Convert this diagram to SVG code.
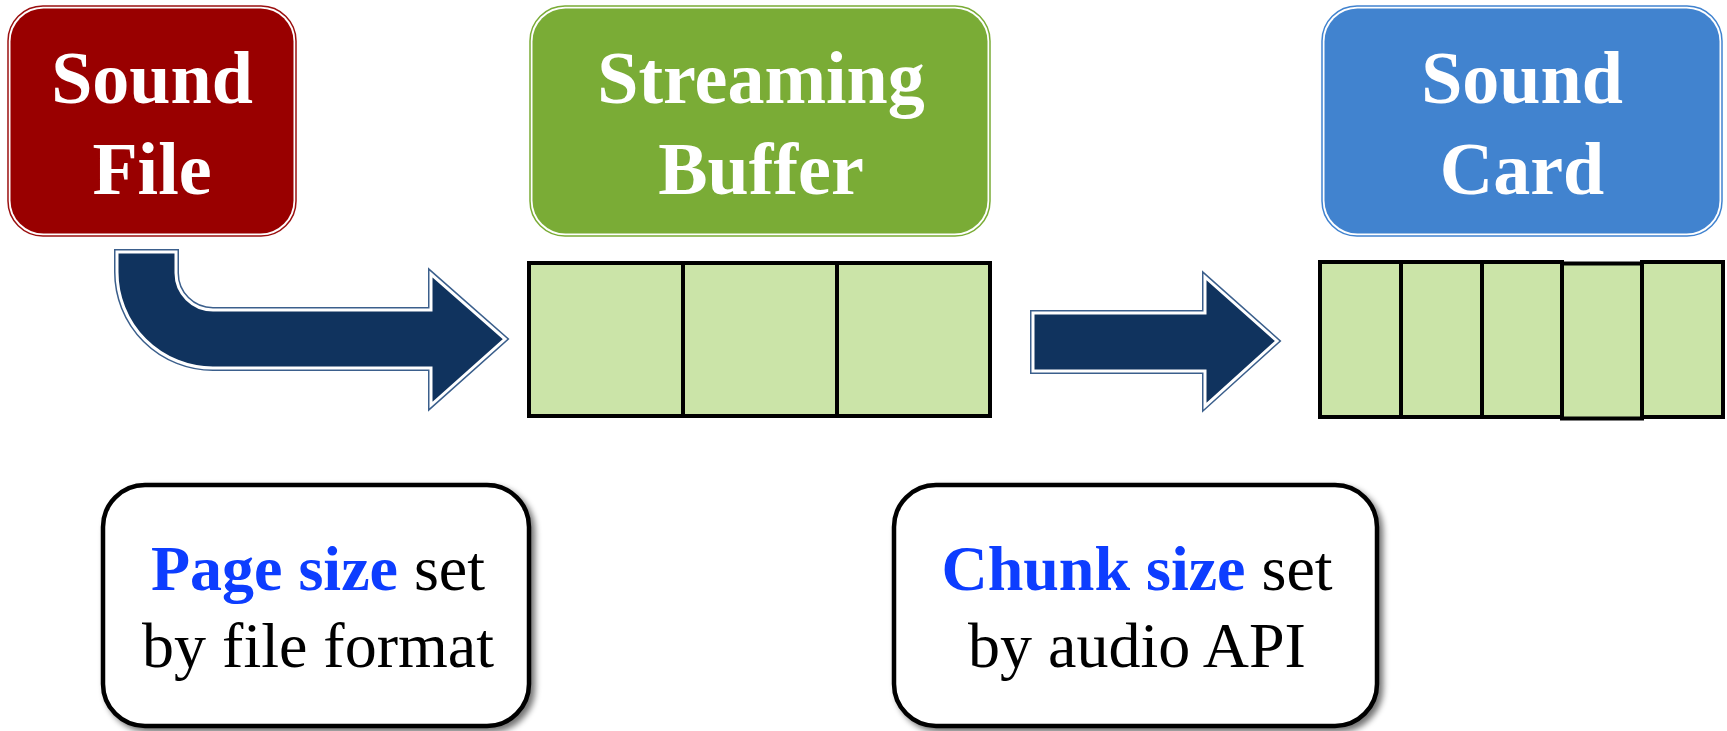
<svg xmlns="http://www.w3.org/2000/svg" width="1727" height="731" viewBox="0 0 1727 731">
  <style>
    .title { font-family: "Liberation Serif", "Times New Roman", serif; font-weight: bold; font-size: 74px; fill: #ffffff; text-anchor: middle; }
    .note { font-family: "Liberation Serif", "Times New Roman", serif; font-size: 64px; fill: #000000; text-anchor: middle; }
    .hl { font-weight: bold; fill: #0a3cff; }
    .cell { fill: #cbe4a8; stroke: #000000; stroke-width: 4; }
    .arrow-out { fill: none; stroke: #3b5f8c; stroke-width: 6; stroke-linejoin: miter; }
    .arrow-in { fill: #10335e; stroke: #ffffff; stroke-width: 3; stroke-linejoin: miter; }
    .notebox { fill: #ffffff; stroke: #000000; stroke-width: 4.5; }
  </style>
  <defs>
    <filter id="shadow" x="-10%" y="-10%" width="125%" height="130%">
      <feGaussianBlur in="SourceAlpha" stdDeviation="3"/>
      <feOffset dx="4" dy="4" result="b"/>
      <feComponentTransfer><feFuncA type="linear" slope="0.55"/></feComponentTransfer>
      <feMerge><feMergeNode/><feMergeNode in="SourceGraphic"/></feMerge>
    </filter>
  </defs>

  <g id="sound-file">
    <rect x="8" y="6" width="288" height="230" rx="35" fill="none" stroke="#9b1010" stroke-width="1.5"/>
    <rect x="10.5" y="8.5" width="283" height="225" rx="33" fill="#990000"/>
    <text class="title" x="152" y="103">Sound</text>
    <text class="title" x="152" y="194">File</text>
  </g>

  <g id="streaming-buffer">
    <rect x="530" y="6" width="460" height="230" rx="35" fill="none" stroke="#7aac36" stroke-width="1.5"/>
    <rect x="532.5" y="8.5" width="455" height="225" rx="33" fill="#7aac36"/>
    <text class="title" x="761" y="103">Streaming</text>
    <text class="title" x="761" y="194">Buffer</text>
  </g>

  <g id="sound-card">
    <rect x="1322" y="6" width="400" height="230" rx="35" fill="none" stroke="#4183cf" stroke-width="1.5"/>
    <rect x="1324.5" y="8.5" width="395" height="225" rx="33" fill="#4183cf"/>
    <text class="title" x="1522" y="103">Sound</text>
    <text class="title" x="1522" y="194">Card</text>
  </g>

  <g id="buffer-cells">
    <rect class="cell" x="529" y="263" width="154" height="153"/>
    <rect class="cell" x="683" y="263" width="154" height="153"/>
    <rect class="cell" x="837" y="263" width="153" height="153"/>
  </g>

  <g id="card-cells">
    <rect class="cell" x="1320" y="262" width="81" height="155"/>
    <rect class="cell" x="1401" y="262" width="81" height="155"/>
    <rect class="cell" x="1482" y="262" width="80" height="155"/>
    <rect class="cell" x="1642" y="262" width="81" height="155"/>
    <rect class="cell" x="1562" y="263.5" width="80" height="155"/>
  </g>

  <g id="connectors">
    <path class="arrow-out" d="M117,252 L176,252 L176,273 A37,37 0 0 0 213,310 L431,310 L431,274 L505,339 L431,405 L431,368 L213,368 A96,96 0 0 1 117,272 Z"/>
    <path class="arrow-in" d="M117,252 L176,252 L176,273 A37,37 0 0 0 213,310 L431,310 L431,274 L505,339 L431,405 L431,368 L213,368 A96,96 0 0 1 117,272 Z"/>
    <path class="arrow-out" d="M1033,313 L1205,313 L1205,277 L1277,341 L1205,406 L1205,371 L1033,371 Z"/>
    <path class="arrow-in" d="M1033,313 L1205,313 L1205,277 L1277,341 L1205,406 L1205,371 L1033,371 Z"/>
  </g>

  <g id="note-page" filter="url(#shadow)">
    <rect class="notebox" x="103" y="485" width="426" height="241" rx="42"/>
    <text class="note" x="318" y="590"><tspan class="hl">Page size</tspan> set</text>
    <text class="note" x="318" y="667">by file format</text>
  </g>

  <g id="note-chunk" filter="url(#shadow)">
    <rect class="notebox" x="894" y="485" width="483" height="241" rx="42"/>
    <text class="note" x="1137" y="590"><tspan class="hl">Chunk size</tspan> set</text>
    <text class="note" x="1137" y="667">by audio API</text>
  </g>
</svg>
